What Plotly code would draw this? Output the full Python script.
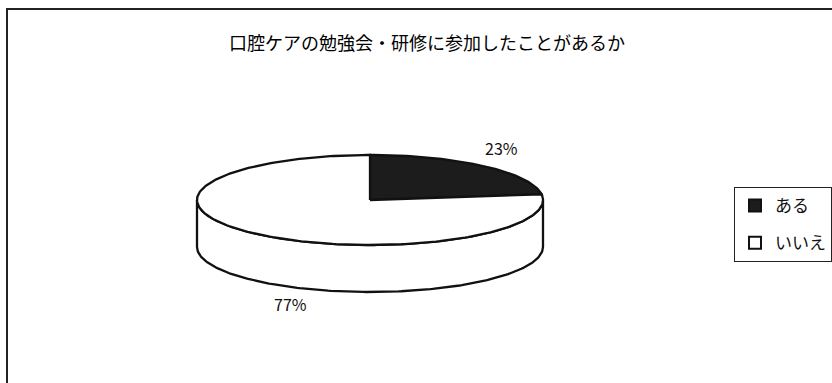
import numpy as np
import plotly.graph_objects as go

# Survey result: have you attended an oral-care study session / training?
title = "口腔ケアの勉強会・研修に参加したことがあるか"
categories = ["ある", "いいえ"]
percents = [23, 77]
slice_colors = ["#1c1c1c", "#ffffff"]

# 3-D pie geometry in pixel space (x right, y down)
W, H = 832, 383
cx, cy = 370, 200          # centre of top face
rx, ry = 173, 45           # ellipse semi-axes
depth = 47                 # wall height
label_pos = [(501, 148), (290, 304)]

LINE = dict(color="#111111", width=2.3)


def ell(t, dy=0.0):
    """Point on the (top or shifted) ellipse; t measured clockwise from 12 o'clock."""
    return cx + rx * np.sin(t), cy - ry * np.cos(t) + dy


fig = go.Figure()

# front wall (visible half, 3 o'clock -> 9 o'clock through 6 o'clock)
t = np.linspace(np.pi / 2, 3 * np.pi / 2, 200)
xt, yt = ell(t)
xb, yb = ell(t[::-1], depth)
fig.add_trace(go.Scatter(
    x=np.r_[xt, xb, xt[:1]], y=np.r_[yt, yb, yt[:1]],
    mode="lines", fill="toself", fillcolor="#ffffff", line=LINE,
    hoverinfo="skip", showlegend=False))

# top faces of the slices
total = float(sum(percents))
start = 0.0
for name, v, col in zip(categories, percents, slice_colors):
    a0 = start / total * 2 * np.pi
    a1 = (start + v) / total * 2 * np.pi
    ts = np.linspace(a0, a1, max(int(300 * v / total), 20))
    xs, ys = ell(ts)
    fig.add_trace(go.Scatter(
        x=np.r_[cx, xs, cx], y=np.r_[cy, ys, cy],
        mode="lines", fill="toself", fillcolor=col, line=LINE,
        hoverinfo="skip", showlegend=False))
    start += v

# value labels
for v, (lx, ly) in zip(percents, label_pos):
    fig.add_annotation(x=lx, y=ly, text=f"{v}%", showarrow=False,
                       font=dict(size=16, color="#111111",
                                 family="Noto Sans CJK JP"))

# legend entries
for i, (name, col) in enumerate(zip(categories, slice_colors)):
    fig.add_trace(go.Scatter(
        x=[None], y=[None], mode="markers", name=name, legendgroup=f"g{i}",
        marker=dict(symbol="square", size=12, color=col,
                    line=dict(color="#111111", width=2))))

# outer chart frame
fig.add_shape(type="rect", xref="x", yref="y", x0=7, y0=9, x1=W + 20, y1=H + 20,
              line=dict(color="#222222", width=2), fillcolor="rgba(0,0,0,0)")

fig.update_layout(
    width=W, height=H,
    margin=dict(l=0, r=0, t=0, b=0),
    paper_bgcolor="white", plot_bgcolor="white",
    xaxis=dict(range=[0, W], visible=False, fixedrange=True),
    yaxis=dict(range=[H, 0], visible=False, fixedrange=True),
    title=dict(text=title, x=427 / W, xanchor="center", y=1 - 44 / H,
               yanchor="middle",
               font=dict(size=18, color="#000000", family="Noto Sans CJK JP")),
    legend=dict(x=734 / W, xanchor="left", y=1 - 187 / H, yanchor="top",
                bordercolor="#222222", borderwidth=1, bgcolor="white",
                tracegroupgap=12, traceorder="grouped",
                font=dict(size=17, color="#111111", family="Noto Sans CJK JP")),
    showlegend=True,
)

fig.write_html("out.html")
